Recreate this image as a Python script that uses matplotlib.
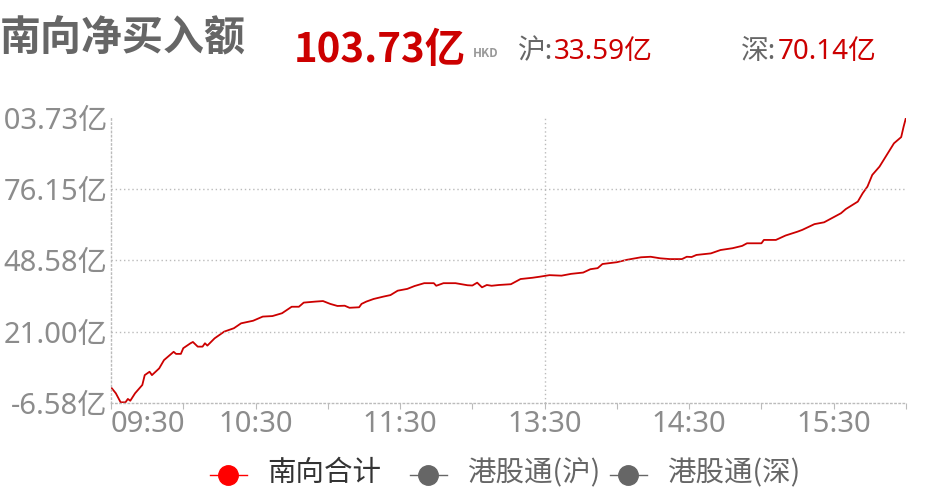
"""南向净买入额 intraday line chart."""

import matplotlib

matplotlib.use("Agg")
import matplotlib.pyplot as plt
from matplotlib.lines import Line2D

plt.rcParams["font.family"] = ["Noto Sans CJK SC", "DejaVu Sans"]
LATIN = ["Noto Sans", "Noto Sans CJK SC"]  # wider digits, CJK falls through

# ── data ──
times = [
    "09:30", "09:32", "09:34", "09:36", "09:37", "09:38", "09:40", "09:43", "09:44", "09:46",
    "09:47", "09:50", "09:52", "09:56", "09:57", "09:59", "10:00", "10:03", "10:04", "10:06",
    "10:08", "10:09", "10:10", "10:13", "10:17", "10:21", "10:24", "10:29", "10:33", "10:37",
    "10:41", "10:45", "10:48", "10:50", "10:55", "10:58", "11:01", "11:04", "11:07", "11:09",
    "11:13", "11:14", "11:16", "11:19", "11:23", "11:26", "11:29", "11:33", "11:36", "11:40",
    "11:44", "11:45", "11:48", "11:53", "11:58", "12:00", "13:02", "13:04", "13:06", "13:08",
    "13:11", "13:16", "13:20", "13:25", "13:28", "13:32", "13:37", "13:41", "13:46", "13:49",
    "13:52", "13:54", "14:00", "14:04", "14:10", "14:14", "14:18", "14:22", "14:27", "14:29",
    "14:31", "14:33", "14:39", "14:43", "14:48", "14:52", "14:54", "15:00", "15:01", "15:06",
    "15:10", "15:15", "15:17", "15:22", "15:26", "15:30", "15:33", "15:35", "15:40", "15:42",
    "15:44", "15:46", "15:49", "15:52", "15:55", "15:58", "15:59", "16:00",
]
south_total = [
    -0.4, -2.7, -6.2, -6.2, -4.9, -5.6, -2.7, 0.5, 4.3, 5.6,
    4.3, 6.9, 10.1, 13.3, 12.5, 12.5, 14.7, 16.6, 17.1, 15.3,
    15.3, 16.6, 15.7, 18.5, 21.1, 22.4, 24.3, 25.3, 26.9, 27.1,
    28.2, 30.7, 30.7, 32.3, 32.7, 32.9, 31.8, 31.0, 31.1, 30.3,
    30.5, 31.8, 32.7, 33.7, 34.6, 35.2, 36.9, 37.6, 38.7, 39.8,
    39.8, 38.8, 39.8, 39.8, 39.0, 38.9, 40.0, 38.2, 39.1, 38.8,
    39.1, 39.4, 41.4, 41.9, 42.3, 42.9, 42.7, 43.4, 43.9, 45.2,
    45.6, 47.2, 47.9, 48.8, 49.8, 50.0, 49.4, 49.1, 49.1, 50.0,
    49.9, 50.7, 51.3, 52.6, 53.3, 54.2, 55.2, 55.2, 56.5, 56.5,
    58.2, 59.7, 60.4, 62.6, 63.3, 65.3, 66.8, 68.4, 71.3, 74.5,
    77.1, 81.6, 84.8, 89.3, 93.8, 96.2, 100.2, 103.73,
]
y_ticks = [-6.58, 21.00, 48.58, 76.15, 103.73]
x_tick_times = ["09:30", "10:00", "10:30", "11:00", "11:30", "12:00",
                "13:30", "14:00", "14:30", "15:00", "15:30", "16:00"]
x_label_times = ["09:30", "10:30", "11:30", "13:30", "14:30", "15:30"]
total_amt, sh_amt, sz_amt = "103.73", "33.59", "70.14"
legend_names = ["南向合计", "港股通(沪)", "港股通(深)"]
legend_colors = ["#ff0000", "#666666", "#666666"]
legend_text_colors = ["#333333", "#666666", "#666666"]

RED = "#cc0000"
GRAY = "#666666"
LABEL = "#8c8c8c"
GRID = "#bbbbbb"
W, H = 934, 494


def session_min(hhmm):
    # minutes of trading since 09:30, lunch break (12:00-13:00) collapsed
    h, m = map(int, hhmm.split(":"))
    mins = h * 60 + m
    if mins <= 12 * 60:
        return mins - (9 * 60 + 30)
    return mins - (9 * 60 + 30) - 60


def fx(px):
    return px / W


def fy(py):
    return 1 - py / H


fig = plt.figure(figsize=(W / 100, H / 100), dpi=100)
ax = fig.add_axes([fx(111), fy(403.3), 795 / W, 285.7 / H])

xs = [session_min(t) for t in times]
ax.plot(xs, south_total, color=RED, linewidth=1.3)

ax.set_xlim(0, 330)
ax.set_ylim(y_ticks[0], y_ticks[-1])

# axes frame: only dotted left/bottom
for s in ("top", "right"):
    ax.spines[s].set_visible(False)
for s in ("left", "bottom"):
    ax.spines[s].set_color(GRID)
    ax.spines[s].set_linestyle((0, (1, 2)))
    ax.spines[s].set_linewidth(1)

for v in y_ticks[1:-1]:
    ax.axhline(v, color=GRID, linestyle=(0, (1, 2)), linewidth=1)
ax.axvline(session_min("13:30"), color=GRID, linestyle=(0, (1, 2)), linewidth=1)

ax.set_yticks(y_ticks)
ax.set_yticklabels([f"{v:.2f}亿" for v in y_ticks], family=LATIN)
ax.tick_params(axis="y", length=0, pad=2.5, labelsize=21, labelcolor=LABEL)

ax.set_xticks([session_min(t) for t in x_tick_times])
ax.set_xticklabels([t if t in x_label_times else "" for t in x_tick_times], family=LATIN)
ax.tick_params(axis="x", length=4, color=GRID, pad=1, labelsize=21, labelcolor=LABEL)
ax.get_xticklabels()[0].set_ha("left")

# ── header ──
fig.text(fx(0), fy(38), "南向净买入额", fontsize=29.5, fontweight="bold", color=GRAY,
         ha="left", va="center")
fig.text(fx(294), fy(62), total_amt + "亿", fontsize=29, fontweight="bold", color=RED,
         ha="left", va="baseline")
fig.text(fx(473), fy(57), "HKD", fontsize=8.5, fontweight="bold", color="#999999",
         ha="left", va="baseline")
fig.text(fx(518), fy(59), "沪:", fontsize=20, color=GRAY, ha="left", va="baseline",
         family=LATIN)
fig.text(fx(554), fy(59), sh_amt + "亿", fontsize=20, color=RED, ha="left", va="baseline",
         family=LATIN)
fig.text(fx(741), fy(59), "深:", fontsize=20, color=GRAY, ha="left", va="baseline",
         family=LATIN)
fig.text(fx(778), fy(59), sz_amt + "亿", fontsize=20, color=RED, ha="left", va="baseline",
         family=LATIN)

# ── legend (one entry every 200px) ──
for i, (name, col, tcol) in enumerate(zip(legend_names, legend_colors, legend_text_colors)):
    cx = 228 + 200 * i
    fig.add_artist(Line2D([fx(cx - 18), fx(cx + 19)], [fy(475), fy(475)], color=col,
                          linewidth=1, transform=fig.transFigure))
    fig.add_artist(Line2D([fx(cx)], [fy(475)], color=col, marker="o", markersize=14,
                          linestyle="none", transform=fig.transFigure))
    fig.text(fx(cx + 39), fy(473), name, fontsize=20.5, color=tcol, ha="left", va="center")

fig.savefig("out.png", dpi=100)
